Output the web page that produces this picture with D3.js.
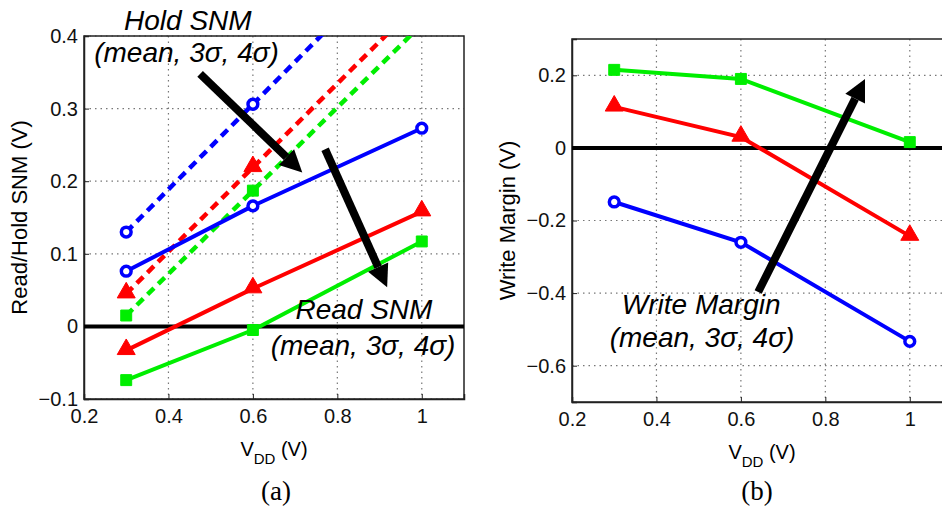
<!DOCTYPE html>
<html>
<head>
<meta charset="utf-8">
<script src="https://cdn.jsdelivr.net/npm/d3@7"></script>
<style>
  body { margin: 0; background: #fff; }
  svg { display: block; font-family: "Liberation Sans", Arial, sans-serif; }
  .grid line { stroke: #777; stroke-dasharray: 1.5,4; stroke-width: 1.2; }
  .tick text { font-size: 20px; fill: #111; }
</style>
</head>
<body>
<script>
// VDD sweep points
const vdd = [0.3, 0.6, 1.0];

// (a) Hold SNM (dashed) and Read SNM (solid): mean, 3 sigma, 4 sigma
const holdMean = [0.130, 0.306, 0.540];
const hold3s   = [0.045, 0.219, 0.450];
const hold4s   = [0.015, 0.187, 0.416];
const readMean = [0.076, 0.166, 0.273];
const read3s   = [-0.033, 0.052, 0.158];
const read4s   = [-0.074, -0.005, 0.117];

// (b) Write margin: mean, 3 sigma, 4 sigma
const writeMean = [-0.149, -0.260, -0.533];
const write3s   = [0.113, 0.030, -0.243];
const write4s   = [0.215, 0.190, 0.016];

const xTicks = [0.2, 0.4, 0.6, 0.8, 1.0];
const yTicksA = [-0.1, 0, 0.1, 0.2, 0.3, 0.4];
const yTicksB = [-0.6, -0.4, -0.2, 0, 0.2];

const w = 942, h = 507;
const blue = "#0000ff", red = "#ff0000", green = "#00ee00";

const svg = d3.select("body").append("svg")
  .attr("width", w)
  .attr("height", h);

function panel(opt) {
  const x = d3.scaleLinear().domain([0.2, 1.1]).range([opt.left, opt.left + 380]);
  const y = d3.scaleLinear().domain(opt.yDomain).range([opt.bottom, opt.top]);
  const g = svg.append("g");

  g.append("clipPath").attr("id", opt.id)
    .append("rect")
      .attr("x", opt.left).attr("y", opt.top)
      .attr("width", 380).attr("height", opt.bottom - opt.top);

  // dotted grid
  const grid = g.append("g").attr("class", "grid");
  grid.selectAll(".gx").data(xTicks.slice(1)).enter().append("line")
    .attr("x1", d => x(d)).attr("x2", d => x(d))
    .attr("y1", opt.top).attr("y2", opt.bottom);
  grid.selectAll(".gy").data(opt.yTicks).enter().append("line")
    .attr("x1", opt.left).attr("x2", opt.left + 380)
    .attr("y1", d => y(d)).attr("y2", d => y(d));

  // axes
  const xAxis = d3.axisBottom(x).tickValues(xTicks).tickSize(-5)
    .tickPadding(10).tickFormat(d3.format("~g"));
  const yAxis = d3.axisLeft(y).tickValues(opt.yTicks).tickSize(-5)
    .tickPadding(6).tickFormat(d => d3.format("~g")(d).replace("-", "\u2212"));
  g.append("g").attr("transform", `translate(0,${opt.bottom})`).call(xAxis);
  g.append("g").attr("transform", `translate(${opt.left},0)`).call(yAxis);
  g.selectAll(".domain").attr("stroke", "#222").attr("stroke-width", 1.5);
  g.selectAll(".tick line").attr("stroke", "#222");

  g.append("rect")
    .attr("x", opt.left).attr("y", opt.top)
    .attr("width", 380).attr("height", opt.bottom - opt.top)
    .attr("fill", "none").attr("stroke", "#222").attr("stroke-width", 1.5);

  // zero line
  g.append("line")
    .attr("x1", opt.left).attr("x2", opt.left + 380)
    .attr("y1", y(0)).attr("y2", y(0))
    .attr("stroke", "#000").attr("stroke-width", 4);

  // labels
  g.append("text")
    .attr("transform", `translate(${opt.yLabelX},${(opt.top + opt.bottom) / 2}) rotate(-90)`)
    .attr("text-anchor", "middle")
    .style("font-size", "22px")
    .text(opt.yLabel);

  const xl = g.append("text")
    .attr("x", opt.left + 190)
    .attr("y", opt.bottom + 57)
    .attr("text-anchor", "middle")
    .style("font-size", "20px");
  xl.append("tspan").text("V");
  xl.append("tspan").attr("dy", 8).style("font-size", "15px").text("DD");
  xl.append("tspan").attr("dy", -8).text(" (V)");

  g.append("text")
    .attr("x", opt.capX).attr("y", 500)
    .attr("text-anchor", "middle")
    .style("font-family", "'Liberation Serif', 'Times New Roman', serif")
    .style("font-size", "27px")
    .text(opt.caption);

  const plot = g.append("g").attr("clip-path", `url(#${opt.id})`);
  return { x, y, g, plot };
}

function series(p, values, color, marker, dashed) {
  const pts = vdd.map((v, i) => [v, values[i]]);
  p.plot.append("path")
    .datum(pts)
    .attr("d", d3.line().x(d => p.x(d[0])).y(d => p.y(d[1])))
    .attr("fill", "none")
    .attr("stroke", color)
    .attr("stroke-width", dashed ? 4.5 : 4)
    .attr("stroke-dasharray", dashed ? "9,6" : null);

  const sym = marker === "circle" ? d3.symbolCircle
    : marker === "triangle" ? d3.symbolTriangle : d3.symbolSquare;
  const size = marker === "circle" ? 75 : marker === "triangle" ? 140 : 120;
  p.plot.selectAll(null).data(pts).enter().append("path")
    .attr("transform", d => `translate(${p.x(d[0])},${p.y(d[1]) + (marker === "triangle" ? -1 : 0)})`)
    .attr("d", d3.symbol().type(sym).size(size))
    .attr("fill", marker === "circle" ? "#fff" : color)
    .attr("stroke", color)
    .attr("stroke-width", marker === "circle" ? 3.5 : 1);
}

function arrow(p, from, to) {
  const x1 = p.x(from[0]), y1 = p.y(from[1]);
  const x2 = p.x(to[0]), y2 = p.y(to[1]);
  const a = Math.atan2(y2 - y1, x2 - x1);
  const len = 22, half = 11;
  const bx = x2 - len * Math.cos(a), by = y2 - len * Math.sin(a);
  p.g.append("line")
    .attr("x1", x1).attr("y1", y1).attr("x2", bx).attr("y2", by)
    .attr("stroke", "#000").attr("stroke-width", 8);
  p.g.append("path")
    .attr("d", d3.line()([
      [x2, y2],
      [bx + half * Math.sin(a), by - half * Math.cos(a)],
      [bx - half * Math.sin(a), by + half * Math.cos(a)]
    ]) + "Z")
    .attr("fill", "#000");
}

function note(p, at, str) {
  p.g.append("text")
    .attr("x", p.x(at[0])).attr("y", p.y(at[1]))
    .attr("text-anchor", "middle")
    .style("font-size", "28px")
    .style("font-style", "italic")
    .text(str);
}

// (a)
const pa = panel({ id: "clipA", left: 84, top: 36, bottom: 399, yDomain: [-0.1, 0.4],
  yTicks: yTicksA, yLabel: "Read/Hold SNM (V)", yLabelX: 27, caption: "(a)", capX: 276 });
series(pa, holdMean, blue, "circle", true);
series(pa, hold3s, red, "triangle", true);
series(pa, hold4s, green, "square", true);
series(pa, readMean, blue, "circle", false);
series(pa, read3s, red, "triangle", false);
series(pa, read4s, green, "square", false);
arrow(pa, [0.475, 0.348], [0.717, 0.212]);
arrow(pa, [0.771, 0.244], [0.918, 0.054]);
note(pa, [0.446, 0.408], "Hold SNM");
note(pa, [0.443, 0.364], "(mean, 3\u03c3, 4\u03c3)");
note(pa, [0.863, 0.010], "Read SNM");
note(pa, [0.861, -0.040], "(mean, 3\u03c3, 4\u03c3)");

// (b)
const pb = panel({ id: "clipB", left: 572, top: 39, bottom: 402, yDomain: [-0.7, 0.3],
  yTicks: yTicksB, yLabel: "Write Margin (V)", yLabelX: 515, caption: "(b)", capX: 757 });
series(pb, writeMean, blue, "circle", false);
series(pb, write3s, red, "triangle", false);
series(pb, write4s, green, "square", false);
arrow(pb, [0.641, -0.397], [0.894, 0.190]);
note(pb, [0.506, -0.458], "Write Margin");
note(pb, [0.508, -0.549], "(mean, 3\u03c3, 4\u03c3)");
</script>
</body>
</html>
